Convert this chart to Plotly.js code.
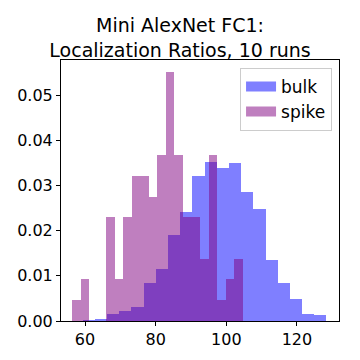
<!DOCTYPE html>
<html>
<head>
<meta charset="utf-8">
<script src="https://cdn.plot.ly/plotly-3.0.1.min.js"></script>
<style>
	html, body {margin: 0; padding: 0; background: #fff;}
	#chart {width: 360px; height: 360px;}
</style>
</head>
<body>
<div id="chart"></div>
<script>
// histogram densities, 20 bins each
const bulkStart = 59.35;
const bulkWidth = 3.45;
const bulkDensity = [0.0002, 0.00044, 0.00155, 0.0022, 0.0031, 0.0084, 0.0115, 0.0191, 0.0241, 0.0321,
	0.0352, 0.0338, 0.0350, 0.0285, 0.0248, 0.0135, 0.0084, 0.0049, 0.00155, 0.0013];

const spikeStart = 56.4;
const spikeWidth = 2.41;
const spikeDensity = [0.0046, 0.0092, 0, 0, 0.0230, 0.0092, 0.0230, 0.0321, 0.0321, 0.0275,
	0.0367, 0.0551, 0.0367, 0.0230, 0.0230, 0.0138, 0.0367, 0.0046, 0.0092, 0.0138];

const xTicks = [60, 80, 100, 120];
const yTicks = [0, 0.01, 0.02, 0.03, 0.04, 0.05];

const bulkColor = 'rgba(0,0,255,0.5)';
const spikeColor = 'rgba(128,0,128,0.5)';

function centers(start, width, n) {
	return Array.from({length: n}, (_, i) => start + width * (i + 0.5));
}

const traces = [
	{
		type: 'bar', x: centers(bulkStart, bulkWidth, bulkDensity.length), y: bulkDensity,
		width: bulkWidth, marker: {color: bulkColor, line: {width: 0}}, showlegend: false, name: 'bulk',
	},
	{
		type: 'bar', x: centers(spikeStart, spikeWidth, spikeDensity.length), y: spikeDensity,
		width: spikeWidth, marker: {color: spikeColor, line: {width: 0}}, showlegend: false, name: 'spike',
	},
	// legend entries drawn as thick lines so the swatch is wide like matplotlib's
	{type: 'scatter', mode: 'lines', x: [null], y: [null], name: 'bulk', line: {color: bulkColor, width: 12}},
	{type: 'scatter', mode: 'lines', x: [null], y: [null], name: 'spike', line: {color: spikeColor, width: 12}},
];

const axisCommon = {
	showgrid: false, zeroline: false, showline: true, mirror: true, linecolor: '#000', linewidth: 1,
	ticks: 'outside', ticklen: 4, tickcolor: '#000', tickfont: {size: 16, color: '#000'},
};

const layout = {
	width: 360, height: 360,
	margin: {l: 61, r: 21, t: 60, b: 39},
	paper_bgcolor: '#fff', plot_bgcolor: '#fff',
	font: {family: 'DejaVu Sans', color: '#000'},
	barmode: 'overlay', bargap: 0,
	title: {
		text: 'Mini AlexNet FC1:<br>Localization Ratios, 10 runs',
		font: {size: 19, color: '#000'}, x: 0.5, xanchor: 'center',
		yref: 'paper', y: 1, yanchor: 'bottom', pad: {b: 28},
	},
	xaxis: Object.assign({}, axisCommon, {range: [53.2, 131.9], tickvals: xTicks}),
	yaxis: Object.assign({}, axisCommon, {range: [0, 0.0578], tickvals: yTicks, tickformat: '.2f'}),
	legend: {
		x: 0.975, xanchor: 'right', y: 0.97, yanchor: 'top',
		bgcolor: '#fff', bordercolor: '#ccc', borderwidth: 1,
		font: {size: 17, color: '#000'}, itemwidth: 30, tracegroupgap: 4,
	},
};

Plotly.newPlot('chart', traces, layout, {displayModeBar: false, staticPlot: true});
</script>
</body>
</html>
